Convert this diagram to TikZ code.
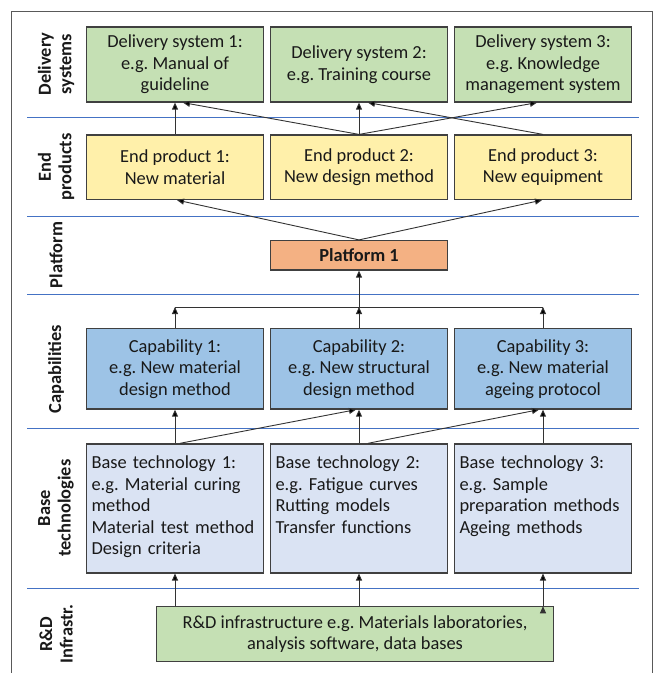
\documentclass[tikz,border=0pt]{standalone}
\usepackage{fontspec}
\setmainfont{Carlito}
\usetikzlibrary{arrows.meta}
\usetikzlibrary{positioning}

\definecolor{dsgreen}{HTML}{C5E0B4}
\definecolor{epyellow}{HTML}{FFF0AA}
\definecolor{platorange}{HTML}{F4B183}
\definecolor{capblue}{HTML}{9DC3E6}
\definecolor{btblue}{HTML}{DAE3F3}
\definecolor{sepblue}{HTML}{4472C4}

\begin{document}
\frenchspacing
\begin{tikzpicture}[x=1pt,y=-1pt,->,>={Triangle[length=7pt,width=6pt]},line width=0.9pt,
		font=\fontsize{18.4}{21.5}\selectfont,
		box/.style={draw=black!75,line width=1.2pt,minimum width=177pt,inner sep=0pt,align=center,text=black!90},
		btbox/.style={box,fill=btblue,anchor=north,align=left,text width=167pt,inner xsep=5pt,inner ysep=0pt,text height=24.7pt,text depth=104.3pt},
		row label/.style={rotate=90,font=\fontsize{18.4}{20.5}\selectfont\bfseries,align=center,text=black!90}]
		
		\useasboundingbox (0,0) rectangle (655,673);
		\draw[-,black!65,line width=1pt] (11,673) -- (11,11) -- (652,11) -- (652,673);
		\foreach \y in {117,216,294,428,588}
		\draw[-,sepblue,line width=0.9pt] (27,\y) -- (639,\y);
		
		% row labels
		\node[row label] at (56,64) (lds) {Delivery\\systems};
		\node[row label] at (56,167) (lep) {End\\products};
		\node[row label] at (56,255) (lpl) {Platform};
		\node[row label] at (56,369) (lcap) {Capabilities};
		\node[row label] at (56,508) (lbt) {Base\\technologies};
		\node[row label] at (56,634) (lrd) {R\&D\\Infrastr.};
		
		\node[box,fill=dsgreen,minimum height=75pt] at (175,64.5) (ds1) {Delivery system 1:\\e.g. Manual of\\guideline};
		\node[box,fill=dsgreen,minimum height=75pt] at (359,64.5) (ds2) {Delivery system 2:\\e.g. Training course};
		\node[box,fill=dsgreen,minimum height=75pt] at (543,64.5) (ds3) {Delivery system 3:\\e.g. Knowledge\\management system};
		
		\node[box,fill=epyellow,minimum height=64.5pt] at (175,167.25) (ep1) {End product 1:\\New material};
		\node[box,fill=epyellow,minimum height=64.5pt] at (359,167.25) (ep2) {End product 2:\\New design method};
		\node[box,fill=epyellow,minimum height=64.5pt] at (543,167.25) (ep3) {End product 3:\\New equipment};
		
		\node[box,fill=platorange,minimum height=29.5pt,font=\fontsize{18.4}{21.5}\selectfont\bfseries] at (359,255.25) (plat) {Platform 1};
		
		\node[box,fill=capblue,minimum height=80.7pt] at (175,368.7) (cap1) {Capability 1:\\e.g. New material\\design method};
		\node[box,fill=capblue,minimum height=80.7pt] at (359,368.7) (cap2) {Capability 2:\\e.g. New structural\\design method};
		\node[box,fill=capblue,minimum height=80.7pt] at (543,368.7) (cap3) {Capability 3:\\e.g. New material\\ageing protocol};
		
		\node[btbox] at (175,443.3) (bt1) {Base technology 1:\\e.g. Material curing\\method\\Material test method\\Design criteria};
		\node[btbox] at (359,443.3) (bt2) {Base technology 2:\\e.g. Fatigue curves\\Rutting models\\Transfer functions};
		\node[btbox] at (543,443.3) (bt3) {Base technology 3:\\e.g. Sample\\preparation methods\\Ageing methods};
		
		\node[box,fill=dsgreen,minimum width=397pt,minimum height=54.3pt] at (355,634) (rd) {R\&D infrastructure e.g. Materials laboratories,\\analysis software, data bases};
		
		\coordinate (bus) at (359,307);
		
		\path[draw=black!80]
		(ep1.north) edge (ds1.south)
		(ep2.north) edge ([xshift=8pt]ds1.south)
		(ep2.north) edge (ds2.south)
		(ep2.north) edge ([xshift=-6pt]ds3.south)
		(ep3.north) edge ([xshift=9pt]ds2.south)
		(plat.north) edge ([xshift=2pt]ep1.south)
		(plat.north) edge ([xshift=-1pt]ep3.south)
		(cap1.north) edge (cap1.north |- bus)
		(cap2.north) edge (bus)
		(cap3.north) edge (cap3.north |- bus)
		(bus) edge (plat.south)
		(bt1.north) edge (cap1.south)
		([xshift=5pt]bt1.north) edge ([xshift=-3pt]cap2.south)
		(bt2.north) edge (cap2.south)
		([xshift=9pt]bt2.north) edge ([xshift=-4pt]cap3.south)
		(bt3.north) edge (cap3.south)
		(bt1.south |- rd.north) edge (bt1.south)
		(bt2.south |- rd.north) edge (bt2.south)
		(bt3.south |- rd.north) edge (bt3.south)
		;
		\draw[-,black!80] (cap1.north |- bus) -- (cap3.north |- bus);
		
	\end{tikzpicture}
\end{document}
